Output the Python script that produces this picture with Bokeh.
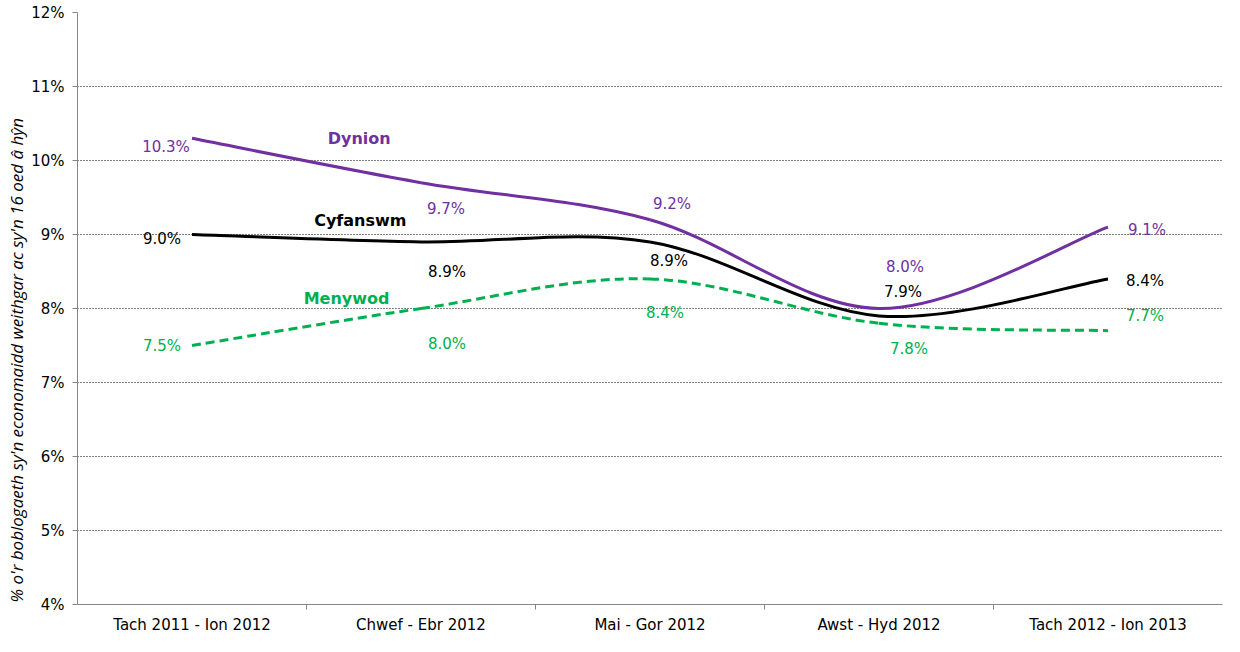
from bokeh.plotting import figure
from bokeh.models import Range1d, FixedTicker, Label, Title, ColumnDataSource
from bokeh.core.properties import value
from bokeh.embed import file_html
from bokeh.resources import INLINE

categories = ["Tach 2011 - Ion 2012", "Chwef - Ebr 2012", "Mai - Gor 2012",
              "Awst - Hyd 2012", "Tach 2012 - Ion 2013"]
dynion = [10.3, 9.7, 9.2, 8.0, 9.1]
cyfanswm = [9.0, 8.9, 8.9, 7.9, 8.4]
menywod = [7.5, 8.0, 8.4, 7.8, 7.7]
y_ticks = [4, 5, 6, 7, 8, 9, 10, 11, 12]

PURPLE = "#7030A0"
GREEN = "#00B050"
BLACK = "#000000"
FONT = "DejaVu Sans"

p = figure(width=1224, height=636, x_range=Range1d(-0.5, 4.5), y_range=Range1d(4, 12),
           output_backend="svg", toolbar_location=None,
           min_border_left=77, min_border_right=2, min_border_top=12, min_border_bottom=20)
p.outline_line_color = None
p.background_fill_color = "white"

# y axis title (placed at the bottom end of the left side)
p.add_layout(Title(text="% o'r boblogaeth sy'n economaidd weithgar ac sy'n 16 oed â hŷn",
                   text_font="Open Sans", text_font_style="italic", text_font_size="17px",
                   text_color="#000000", align="left", offset=2, standoff=2), "left")

# grid
p.xgrid.grid_line_color = None
p.ygrid.ticker = FixedTicker(ticks=y_ticks)
p.ygrid.grid_line_color = "#000000"
p.ygrid.grid_line_dash = "1 2"
p.ygrid.grid_line_width = 1

# y axis
p.yaxis.ticker = FixedTicker(ticks=y_ticks)
p.yaxis.major_label_overrides = {t: f"{t}%" for t in y_ticks}
p.yaxis.axis_line_color = "#868686"
p.yaxis.major_tick_line_color = "#868686"
p.yaxis.major_tick_out = 5
p.yaxis.major_tick_in = 0
p.yaxis.minor_tick_line_color = None
p.yaxis.major_label_text_font = FONT
p.yaxis.major_label_text_font_size = "15px"
p.yaxis.major_label_text_color = "#000000"
p.yaxis.major_label_standoff = 8

# x axis
idx = list(range(len(categories)))
p.xaxis.ticker = FixedTicker(ticks=idx, minor_ticks=[i + 0.5 for i in idx[:-1]])
p.xaxis.major_label_overrides = {i: c for i, c in zip(idx, categories)}
p.xaxis.axis_line_color = "#868686"
p.xaxis.major_tick_line_color = None
p.xaxis.major_tick_out = 0
p.xaxis.major_tick_in = 0
p.xaxis.minor_tick_line_color = "#868686"
p.xaxis.minor_tick_out = 5
p.xaxis.minor_tick_in = 0
p.xaxis.major_label_text_font = FONT
p.xaxis.major_label_text_font_size = "15px"
p.xaxis.major_label_text_color = "#000000"
p.xaxis.major_label_standoff = 6


def bezier_source(vals):
    n = len(vals)
    xs = list(range(n))
    d = dict(x0=[], y0=[], x1=[], y1=[], cx0=[], cy0=[], cx1=[], cy1=[])
    for i in range(n - 1):
        a = i - 1 if i > 0 else i
        b = i + 2 if i + 2 < n else i + 1
        d["x0"].append(xs[i]); d["y0"].append(vals[i])
        d["x1"].append(xs[i + 1]); d["y1"].append(vals[i + 1])
        d["cx0"].append(xs[i] + (xs[i + 1] - xs[a]) / 6)
        d["cy0"].append(vals[i] + (vals[i + 1] - vals[a]) / 6)
        d["cx1"].append(xs[i + 1] - (xs[b] - xs[i]) / 6)
        d["cy1"].append(vals[i + 1] - (vals[b] - vals[i]) / 6)
    return ColumnDataSource(d)


p.bezier(x0="x0", y0="y0", x1="x1", y1="y1", cx0="cx0", cy0="cy0", cx1="cx1", cy1="cy1",
         source=bezier_source(menywod), line_color=GREEN, line_width=3, line_dash="9 5")
p.bezier(x0="x0", y0="y0", x1="x1", y1="y1", cx0="cx0", cy0="cy0", cx1="cx1", cy1="cy1",
         source=bezier_source(cyfanswm), line_color=BLACK, line_width=3)
p.bezier(x0="x0", y0="y0", x1="x1", y1="y1", cx0="cx0", cy0="cy0", cx1="cx1", cy1="cy1",
         source=bezier_source(dynion), line_color=PURPLE, line_width=3)

# data labels (pixel offsets from each point)
dyn_dx = [-26, 25, 22, 26, 39]
dyn_dy = [9, 26, -16, -42, 3]
cyf_dx = [-30, 26, 19, 24, 37]
cyf_dy = [4, 30, 19, -24, 2]
men_dx = [-30, 26, 15, 30, 37]
men_dy = [0, 35, 34, 26, -15]

for vals, dx, dy, col in [(dynion, dyn_dx, dyn_dy, PURPLE),
                          (cyfanswm, cyf_dx, cyf_dy, BLACK),
                          (menywod, men_dx, men_dy, GREEN)]:
    src = ColumnDataSource(dict(x=idx, y=vals, t=[f"{v:.1f}%" for v in vals], dx=dx, dy=dy))
    p.text(x="x", y="y", text="t", x_offset="dx", y_offset="dy", source=src,
           text_color=col, text_font=value(FONT), text_font_size="15px",
           text_align="center", text_baseline="middle")

# series names
for name, xx, yy, col in [("Dynion", 0.73, 10.30, PURPLE),
                          ("Cyfanswm", 0.735, 9.19, BLACK),
                          ("Menywod", 0.675, 8.14, GREEN)]:
    p.add_layout(Label(x=xx, y=yy, text=name, text_color=col, text_font=FONT,
                       text_font_size="16px", text_font_style="bold",
                       text_align="center", text_baseline="middle"))

open("out.html", "w").write(file_html(p, INLINE))
